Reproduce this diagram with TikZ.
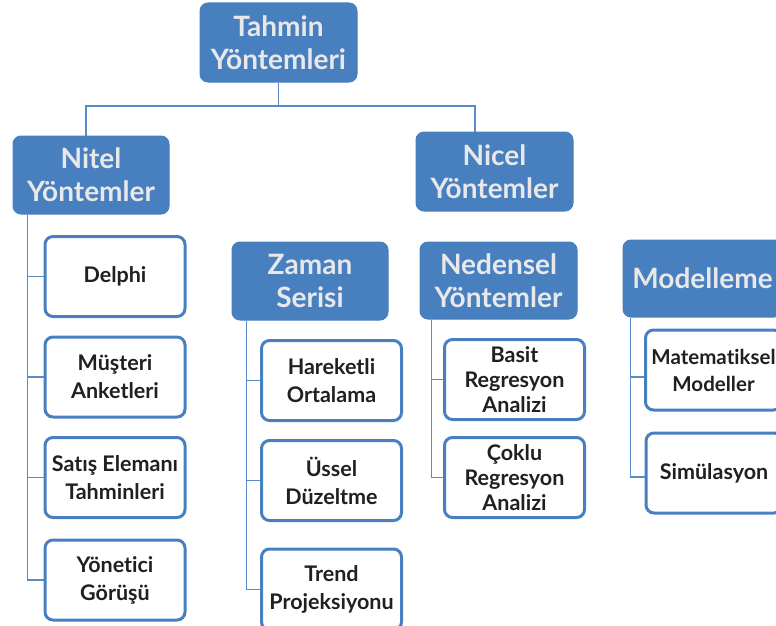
\documentclass[tikz,border=0pt]{standalone}
\usepackage{fontspec}
\setmainfont{Lato}[Ligatures=NoCommon]
\definecolor{hblue}{RGB}{72,128,191}
\definecolor{lblue}{RGB}{88,140,200}
\definecolor{htext}{RGB}{232,232,234}
\definecolor{ctext}{RGB}{35,31,32}
\begin{document}
\begin{tikzpicture}[x=1pt,y=-1pt,
  head/.style={draw=hblue,fill=hblue,rounded corners=8pt,inner sep=0pt,align=center,
    text=htext,font=\fontsize{28}{33}\selectfont\bfseries,line width=1pt},
  child/.style={draw=hblue,fill=white,rounded corners=8pt,inner sep=0pt,align=center,
    text=ctext,font=\fontsize{21.5}{28}\selectfont\bfseries,line width=3pt,
    minimum width=140pt,minimum height=80pt},
  tight/.style={font=\fontsize{21.5}{25}\selectfont\bfseries},
  conn/.style={draw=lblue,line width=1.8pt}]
\useasboundingbox (0,0) rectangle (776,626);
\clip (0,0) rectangle (776,626);
% headers
\node[head,minimum width=157pt,minimum height=79pt] (top) at (278.5,42.5) {Tahmin\\Yöntemleri};
\node[head,minimum width=156pt,minimum height=78pt] (nitel) at (91,175) {Nitel\\Yöntemler};
\node[head,minimum width=157pt,minimum height=79pt] (nicel) at (494.5,171.5) {Nicel\\Yöntemler};
\node[head,minimum width=156pt,minimum height=78pt] (zaman) at (310,281) {Zaman\\Serisi};
\node[head,minimum width=157pt,minimum height=77pt] (neden) at (498.5,280.5) {Nedensel\\Yöntemler};
\node[head,minimum width=159pt,minimum height=77pt] (model) at (702.5,278.5) {Modelleme};
% children
\node[child] (delphi) at (115,276.5) {Delphi};
\node[child] (musteri) at (115,377) {Müşteri\\Anketleri};
\node[child] (satis) at (115,477.5) {Satış Elemanı\\Tahminleri};
\node[child] (yonetici) at (115,580) {Yönetici\\Görüşü};
\node[child] (hareketli) at (331.5,380.5) {Hareketli\\Ortalama};
\node[child] (ussel) at (331.5,480.5) {Üssel\\Düzeltme};
\node[child,minimum height=81pt] (trend) at (331.5,589.5) {Trend\\Projeksiyonu};
\node[child,tight] (basit) at (514.5,379.5) {Basit\\Regresyon\\Analizi};
\node[child,tight] (coklu) at (514.5,477.5) {Çoklu\\Regresyon\\Analizi};
\node[child,minimum width=136pt,font=\fontsize{20.5}{27}\selectfont\bfseries] (matem) at (713.5,370) {Matematiksel\\Modeller};
\node[child,minimum width=136pt] (simul) at (714,473) {Simülasyon};
% top level connectors
\coordinate (bus) at (280,106);
\draw[conn] (top.south) -- (top.south |- bus);
\draw[conn] ([xshift=-5pt]nitel.north) |- (bus) -| ([xshift=-19.5pt]nicel.north);
% Nitel spine
\coordinate (ns) at ([xshift=15pt]nitel.south west);
\draw[conn] (ns) |- (yonetici.west);
\draw[conn] (ns |- delphi.west) -- (delphi.west);
\draw[conn] (ns |- musteri.west) -- (musteri.west);
\draw[conn] (ns |- satis.west) -- (satis.west);
% Zaman spine
\coordinate (zs) at ([xshift=15pt]zaman.south west);
\draw[conn] (zs) |- (trend.west);
\draw[conn] (zs |- hareketli.west) -- (hareketli.west);
\draw[conn] (zs |- ussel.west) -- (ussel.west);
% Nedensel spine
\coordinate (ds) at ([xshift=12pt]neden.south west);
\draw[conn] (ds) |- (coklu.west);
\draw[conn] (ds |- basit.west) -- (basit.west);
% Modelleme spine
\coordinate (ms) at ([xshift=8pt]model.south west);
\coordinate (mm) at ([yshift=-7pt]matem.west);
\coordinate (msim) at ([yshift=-4pt]simul.west);
\draw[conn] (ms) |- (msim);
\draw[conn] (ms |- mm) -- (mm);
\end{tikzpicture}
\end{document}
